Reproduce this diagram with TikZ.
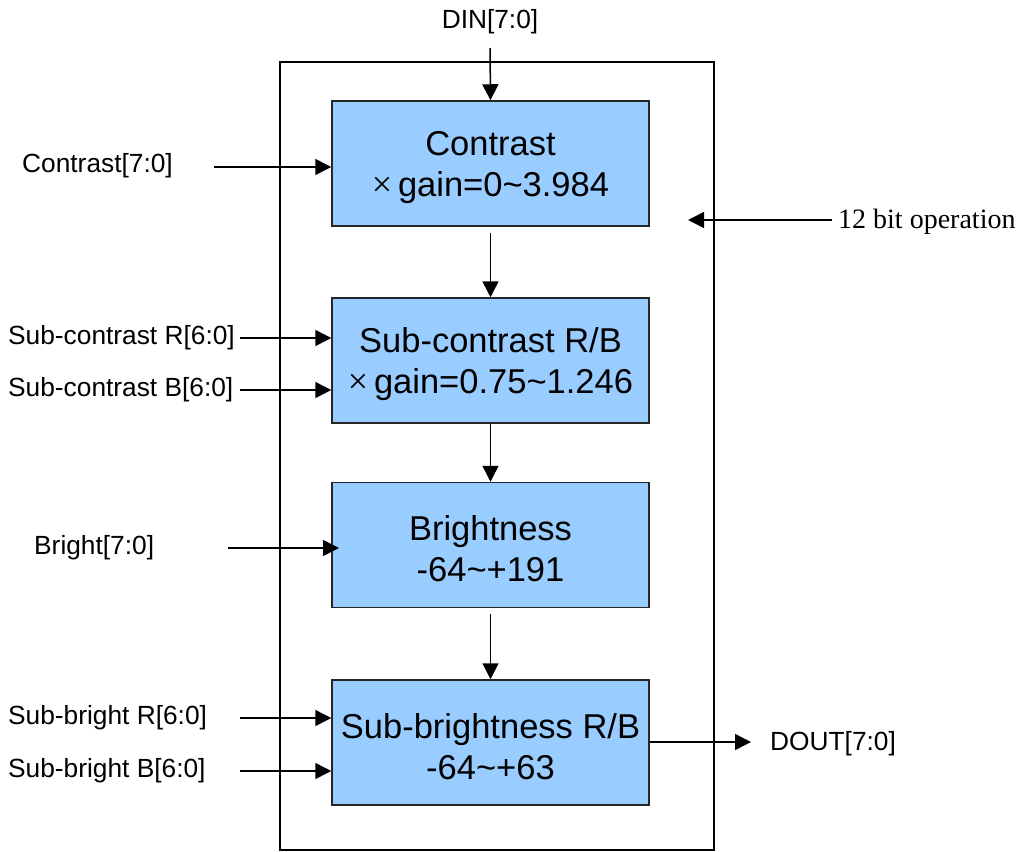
\documentclass[tikz,border=0pt]{standalone}
\usepackage{fontspec}
\setmainfont{Liberation Sans}
\newfontfamily\serifface{Liberation Serif}
\usetikzlibrary{arrows.meta}
\definecolor{boxblue}{HTML}{99CCFF}
\tikzset{
  blk/.style={draw=black!85, line width=1.5pt, fill=boxblue, minimum width=317pt, minimum height=125pt, align=center, inner sep=0pt, font=\fontsize{34.5}{41}\selectfont},
  lbl/.style={anchor=west, inner sep=0pt, font=\fontsize{26.3}{30}\selectfont},
  conn/.style={line width=1.5pt, -{Triangle[length=16pt,width=16pt]}},
}
\newcommand{\tms}{{\serifface\fontsize{36}{36}\selectfont\symbol{"D7}}}
\newcommand{\upstrut}{\rule{0pt}{33pt}}
\begin{document}
\begin{tikzpicture}[x=1pt,y=-1pt]
\useasboundingbox (0,0) rectangle (1024,851);
\node[draw, line width=1.5pt, minimum width=434pt, minimum height=788pt, inner sep=0pt] (outer) at (497,456) {};
\node[blk] (b1) at (490.5,163.5) {\upstrut Contrast\\\tms\,gain=0\textasciitilde3.984};
\node[blk] (b2) at (490.5,360.5) {\upstrut Sub-contrast R/B\\\tms\,gain=0.75\textasciitilde1.246};
\node[blk] (b3) at (490.5,545) {\upstrut Brightness\\-64\textasciitilde+191};
\node[blk] (b4) at (490.5,742.5) {\upstrut Sub-brightness R/B\\-64\textasciitilde+63};

\node[anchor=center, inner sep=0pt, font=\fontsize{26.3}{30}\selectfont] (din) at (490,22) {DIN[7:0]};
\node[lbl] (lc) at (22,166) {Contrast[7:0]};
\node[lbl] (lscr) at (8,338) {Sub-contrast R[6:0]};
\node[lbl] (lscb) at (8,390) {Sub-contrast B[6:0]};
\node[lbl] (lbr) at (34,548) {Bright[7:0]};
\node[lbl] (lsbr) at (8,718) {Sub-bright R[6:0]};
\node[lbl] (lsbb) at (8,771) {Sub-bright B[6:0]};
\node[lbl] (dout) at (770,744) {DOUT[7:0]};
\node[anchor=west, inner sep=0pt, font=\serifface\fontsize{28}{30}\selectfont] (op) at (838,222) {12 bit operation};

\coordinate (dinS) at (490,48);
\coordinate (cS) at (214,167);
\coordinate (scrS) at (240,338);
\coordinate (scbS) at (240,390);
\coordinate (brS) at (228,548);
\coordinate (brE) at (339,548);
\coordinate (sbrS) at (240,718);
\coordinate (sbbS) at (240,771);
\coordinate (opS) at (832,220);
\coordinate (opE) at (688,220);
\coordinate (doutE) at (751,742);

\draw[conn] (dinS) -- (b1.north);
\draw[conn] (cS) -- (cS -| b1.west);
\draw[conn] (scrS) -- (scrS -| b2.west);
\draw[conn] (scbS) -- (scbS -| b2.west);
\draw[conn] (brS) -- (brE);
\draw[conn] (sbrS) -- (sbrS -| b4.west);
\draw[conn] (sbbS) -- (sbbS -| b4.west);
\draw[conn] (opS) -- (opE);
\draw[conn] (b4.east |- doutE) -- (doutE);
\draw[conn] ([yshift=-6pt]b1.south) -- (b2.north);
\draw[conn] (b2.south) -- (b3.north);
\draw[conn] ([yshift=-6pt]b3.south) -- (b4.north);
\end{tikzpicture}
\end{document}
